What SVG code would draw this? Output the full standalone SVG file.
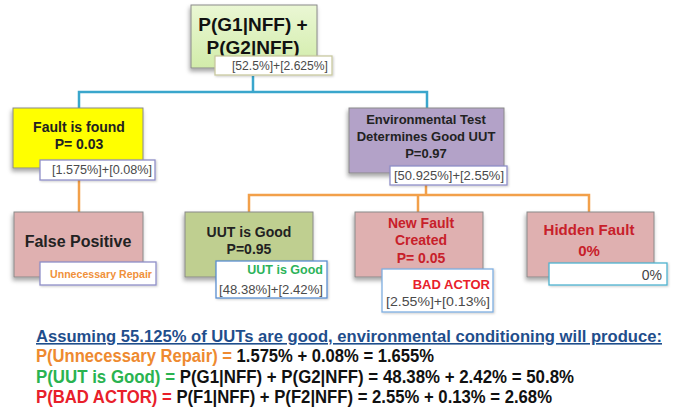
<svg xmlns="http://www.w3.org/2000/svg" width="675" height="410" viewBox="0 0 675 410">
<defs>
<linearGradient id="gTop" x1="0" y1="0" x2="0" y2="1">
<stop offset="0" stop-color="#eaf7d4"/>
<stop offset="1" stop-color="#d2ecaa"/>
</linearGradient>
<filter id="sh" x="-10%" y="-10%" width="125%" height="130%">
<feDropShadow dx="-1" dy="3" stdDeviation="2" flood-color="#000" flood-opacity="0.35"/>
</filter>
<filter id="sh2" x="-10%" y="-20%" width="125%" height="150%">
<feDropShadow dx="1" dy="1" stdDeviation="1" flood-color="#000" flood-opacity="0.2"/>
</filter>
</defs>
<style>
text{font-family:"Liberation Sans",Arial,sans-serif}
.b{font-weight:bold}
.box{stroke:#8a8a8a;stroke-width:1;filter:url(#sh)}
.lbl{fill:#fff;stroke-width:1.3;filter:url(#sh2)}
.lt{font-size:12px;fill:#4a4a4a}
.c1{fill:none;stroke:#3aa6cc;stroke-width:2.5}
.c2{fill:none;stroke:#f2a04a;stroke-width:2.5}
.red{fill:#c8202a}
</style>
<rect width="675" height="410" fill="#fff"/>
<g id="connectors">
<path class="c1" d="M253 76 V92 M79 108 V92 H427 V108"/>
<path class="c2" d="M79 180 V212 M426 185 V195 M249 212 V195 H589 V212 M418 195 V212"/>
</g>
<g id="top">
<rect class="box" x="191" y="5" width="126" height="63" fill="url(#gTop)"/>
<text class="b" x="253" y="31" font-size="19" text-anchor="middle" fill="#111">P(G1|NFF) +</text>
<text class="b" x="253" y="54" font-size="19" text-anchor="middle" fill="#111">P(G2|NFF)</text>
<rect class="lbl" x="215" y="56" width="117" height="19" stroke="#c9c9a0"/>
<text class="lt" x="328" y="70" text-anchor="end" textLength="96" lengthAdjust="spacingAndGlyphs">[52.5%]+[2.625%]</text>
</g>
<g id="fault-found">
<rect class="box" x="13" y="108" width="130" height="60" fill="#ffff00"/>
<text class="b" x="79" y="132" font-size="14" text-anchor="middle" fill="#222">Fault is found</text>
<text class="b" x="79" y="149" font-size="14" text-anchor="middle" fill="#222">P= 0.03</text>
<rect class="lbl" x="40" y="160" width="115" height="20" stroke="#8f8fc8"/>
<text class="lt" x="152" y="174" text-anchor="end" textLength="100" lengthAdjust="spacingAndGlyphs">[1.575%]+[0.08%]</text>
</g>
<g id="env-test">
<rect class="box" x="349" y="108" width="155" height="65" fill="#b3a2c8"/>
<text class="b" x="426" y="124" font-size="13" text-anchor="middle" fill="#222">Environmental Test</text>
<text class="b" x="426" y="141" font-size="13" text-anchor="middle" fill="#222">Determines Good UUT</text>
<text class="b" x="426" y="158" font-size="13" text-anchor="middle" fill="#222">P=0.97</text>
<rect class="lbl" x="390" y="166" width="117" height="19" stroke="#8f8fc8"/>
<text class="lt" x="504" y="180" text-anchor="end" textLength="110" lengthAdjust="spacingAndGlyphs">[50.925%]+[2.55%]</text>
</g>
<g id="false-positive">
<rect class="box" x="14" y="212" width="129" height="65" fill="#dfb0b0"/>
<text class="b" x="78" y="247" font-size="16" text-anchor="middle" fill="#222">False Positive</text>
<rect class="lbl" x="40" y="262" width="116" height="23" stroke="#8f8fc8"/>
<text x="152" y="278" font-size="11.5" font-weight="bold" text-anchor="end" fill="#f0913a" textLength="102" lengthAdjust="spacingAndGlyphs">Unnecessary Repair</text>
</g>
<g id="uut-good">
<rect class="box" x="185" y="212" width="128" height="65" fill="#bfcf90"/>
<text class="b" x="249" y="237" font-size="14" text-anchor="middle" fill="#222">UUT is Good</text>
<text class="b" x="249" y="254" font-size="14" text-anchor="middle" fill="#222">P=0.95</text>
<rect class="lbl" x="216" y="261" width="111" height="37" stroke="#5b8fd0"/>
<text x="323" y="274" font-size="12.5" font-weight="bold" text-anchor="end" fill="#2cb35a">UUT is Good</text>
<text class="lt" x="323" y="294" text-anchor="end" textLength="104" lengthAdjust="spacingAndGlyphs">[48.38%]+[2.42%]</text>
</g>
<g id="new-fault">
<rect class="box" x="355" y="212" width="128" height="65" fill="#dfb0b0"/>
<text class="b red" x="421" y="228" font-size="14" text-anchor="middle">New Fault</text>
<text class="b red" x="421" y="245" font-size="14" text-anchor="middle">Created</text>
<text class="b red" x="421" y="263" font-size="14" text-anchor="middle">P= 0.05</text>
<rect class="lbl" x="382" y="269" width="111" height="43" stroke="#7faee0"/>
<text x="490" y="289" font-size="13" font-weight="bold" text-anchor="end" fill="#e8202a">BAD ACTOR</text>
<text class="lt" x="490" y="306" font-size="13" text-anchor="end" fill="#444" textLength="104" lengthAdjust="spacingAndGlyphs">[2.55%]+[0.13%]</text>
</g>
<g id="hidden-fault">
<rect class="box" x="527" y="212" width="127" height="65" fill="#dfb0b0"/>
<text class="b red" x="589" y="235" font-size="15" text-anchor="middle">Hidden Fault</text>
<text class="b red" x="589" y="256" font-size="15" text-anchor="middle">0%</text>
<rect class="lbl" x="549" y="263" width="118" height="22" stroke="#4fb3cf"/>
<text x="662" y="280" font-size="14" text-anchor="end" fill="#444">0%</text>
</g>
<g id="summary" class="b">
<text x="36" y="342" font-size="16" fill="#1f4e8c" text-decoration="underline" textLength="626" lengthAdjust="spacingAndGlyphs">Assuming 55.125% of UUTs are good, environmental conditioning will produce:</text>
<text x="36" y="362" font-size="18" textLength="398" lengthAdjust="spacingAndGlyphs"><tspan fill="#ee8a30">P(Unnecessary Repair) = </tspan><tspan fill="#111">1.575% + 0.08% = 1.655%</tspan></text>
<text x="36" y="383" font-size="18" textLength="538" lengthAdjust="spacingAndGlyphs"><tspan fill="#2ab350">P(UUT is Good) = </tspan><tspan fill="#111">P(G1|NFF) +  P(G2|NFF) = 48.38% + 2.42% = 50.8%</tspan></text>
<text x="36" y="403" font-size="18" textLength="516" lengthAdjust="spacingAndGlyphs"><tspan fill="#e8202a">P(BAD ACTOR) = </tspan><tspan fill="#111">P(F1|NFF) + P(F2|NFF) = 2.55% + 0.13% = 2.68%</tspan></text>
</g>
</svg>
